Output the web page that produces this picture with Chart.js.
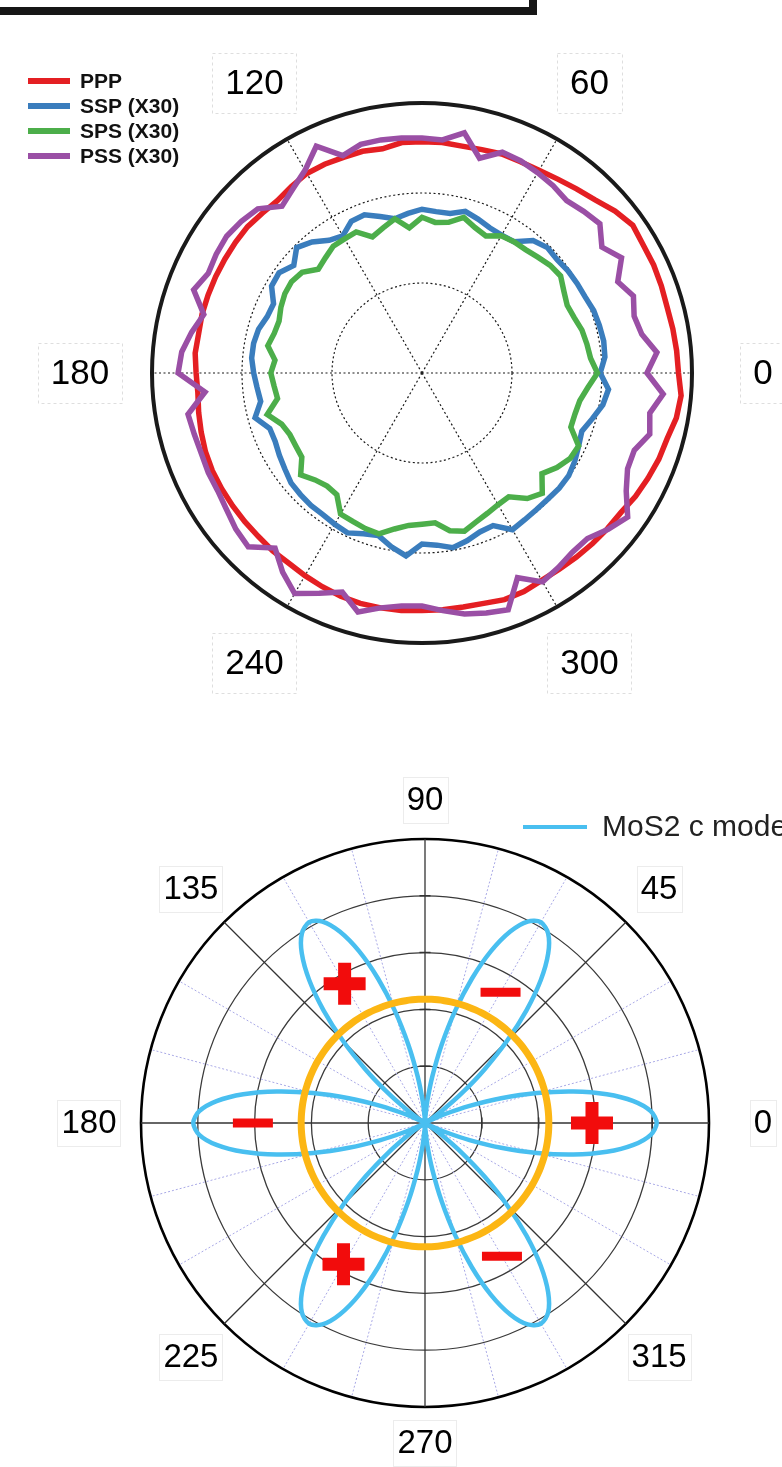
<!DOCTYPE html>
<html>
<head>
<meta charset="utf-8">
<script src="https://cdn.jsdelivr.net/npm/chart.js@4/dist/chart.umd.min.js"></script>
<style>
  html, body { margin: 0; padding: 0; background: #ffffff; }
  body { width: 782px; height: 1467px; position: relative; overflow: hidden; }
  #frame { position: absolute; left: -20px; top: -20px; width: 557px; height: 35px;
           box-sizing: border-box; border: 8px solid #161616; }
  #polarTop { position: absolute; left: 0; top: 0; }
  #polarBottom { position: absolute; left: 0; top: 740px; }
</style>
</head>
<body>
<div id="frame"></div>
<canvas id="polarTop" width="782" height="720"></canvas>
<canvas id="polarBottom" width="782" height="727"></canvas>
<script>
// ---------- Upper plot: azimuthal SHG intensity, 5 degree steps ----------
const topAngles = [0,5,10,15,20,25,30,35,40,45,50,55,60,65,70,75,80,85,90,95,100,105,110,115,
  120,125,130,135,140,145,150,155,160,165,170,175,180,185,190,195,200,205,210,215,220,225,230,235,
  240,245,250,255,260,265,270,275,280,285,290,295,300,305,310,315,320,325,330,335,340,345,350,355];

const ppp = [2.85,2.84,2.83,2.82,2.83,2.84,2.84,2.86,2.80,2.72,2.67,2.63,
  2.60,2.59,2.59,2.57,2.56,2.57,2.57,2.57,2.53,2.55,2.55,2.56,
  2.56,2.53,2.50,2.51,2.53,2.53,2.53,2.53,2.53,2.53,2.52,2.53,
  2.51,2.50,2.52,2.54,2.56,2.57,2.57,2.57,2.57,2.57,2.58,2.58,
  2.60,2.62,2.64,2.65,2.65,2.65,2.64,2.64,2.64,2.65,2.68,2.68,
  2.66,2.66,2.67,2.68,2.69,2.70,2.74,2.77,2.80,2.82,2.87,2.89];

const ssp = [1.98,2.04,2.05,2.04,2.03,2.00,1.99,1.98,1.96,1.97,1.92,1.78,
  1.77,1.78,1.82,1.86,1.80,1.80,1.82,1.78,1.74,1.80,1.87,1.86,
  1.76,1.80,1.90,1.97,1.86,1.94,1.93,1.82,1.83,1.88,1.90,1.90,
  1.87,1.84,1.82,1.92,1.80,1.80,1.83,1.86,1.90,1.91,1.92,1.92,
  1.94,1.96,1.90,1.87,1.96,2.04,1.90,1.92,1.97,1.93,1.88,1.87,
  2.01,1.99,1.98,1.98,1.99,1.99,1.96,1.92,1.89,1.96,2.04,2.08];

const sps = [1.95,1.88,1.86,1.84,1.80,1.78,1.82,1.88,1.86,1.82,1.79,1.78,
  1.76,1.68,1.72,1.79,1.70,1.68,1.73,1.62,1.74,1.67,1.61,1.73,
  1.72,1.72,1.67,1.63,1.74,1.77,1.76,1.73,1.69,1.70,1.74,1.64,
  1.68,1.65,1.63,1.78,1.66,1.62,1.62,1.63,1.76,1.68,1.64,1.65,
  1.81,1.82,1.84,1.85,1.76,1.70,1.68,1.67,1.78,1.82,1.76,1.72,
  1.69,1.68,1.82,1.89,1.74,1.83,1.90,1.92,1.76,1.76,1.78,1.85];

const pss = [2.50,2.62,2.48,2.44,2.50,2.40,2.56,2.44,2.58,2.54,2.50,2.54,
  2.57,2.60,2.61,2.47,2.71,2.60,2.61,2.62,2.63,2.63,2.57,2.78,
  2.60,2.50,2.42,2.58,2.62,2.65,2.64,2.62,2.70,2.51,2.60,2.68,
  2.71,2.42,2.64,2.62,2.61,2.62,2.62,2.65,2.70,2.73,2.54,2.70,
  2.83,2.70,2.59,2.75,2.65,2.60,2.59,2.65,2.72,2.76,2.80,2.51,
  2.68,2.64,2.60,2.60,2.70,2.79,2.62,2.52,2.51,2.62,2.57,2.69];

const topAxisLabels = [0, 60, 120, 180, 240, 300];

// ---------- Lower plot: MoS2 c-mode pattern, 3 degree steps ----------
const bottomAngles = [0,3,6,9,12,15,18,21,24,27,30,33,36,39,42,45,48,51,54,57,
  60,63,66,69,72,75,78,81,84,87,90,93,96,99,102,105,108,111,114,117,
  120,123,126,129,132,135,138,141,144,147,150,153,156,159,162,165,168,171,174,177,
  180,183,186,189,192,195,198,201,204,207,210,213,216,219,222,225,228,231,234,237,
  240,243,246,249,252,255,258,261,264,267,270,273,276,279,282,285,288,291,294,297,
  300,303,306,309,312,315,318,321,324,327,330,333,336,339,342,345,348,351,354,357];

const cMode = [
  4.08,3.98,3.69,3.24,2.67,2.04,1.41,0.84,0.39,0.10,0,0.10,0.39,0.84,1.41,2.04,2.67,3.24,3.69,3.98,
  4.08,3.98,3.69,3.24,2.67,2.04,1.41,0.84,0.39,0.10,0,0.10,0.39,0.84,1.41,2.04,2.67,3.24,3.69,3.98,
  4.08,3.98,3.69,3.24,2.67,2.04,1.41,0.84,0.39,0.10,0,0.10,0.39,0.84,1.41,2.04,2.67,3.24,3.69,3.98,
  4.08,3.98,3.69,3.24,2.67,2.04,1.41,0.84,0.39,0.10,0,0.10,0.39,0.84,1.41,2.04,2.67,3.24,3.69,3.98,
  4.08,3.98,3.69,3.24,2.67,2.04,1.41,0.84,0.39,0.10,0,0.10,0.39,0.84,1.41,2.04,2.67,3.24,3.69,3.98,
  4.08,3.98,3.69,3.24,2.67,2.04,1.41,0.84,0.39,0.10,0,0.10,0.39,0.84,1.41,2.04,2.67,3.24,3.69,3.98];

const isotropicLevel = 2.18;

const plusAngles = [0, 120, 240];
const plusLevels = [2.94, 2.83, 2.87];
const minusAngles = [60, 180, 300];
const minusLevels = [2.66, 3.03, 2.71];

const bottomAxisLabels = [0, 45, 90, 135, 180, 225, 270, 315];

// ---------- helpers ----------
// The radial scale walks clockwise from its start angle; reorder so that
// angles increase counter-clockwise from the right-hand side.
const clockwise = arr => arr.map((_, i) => arr[(arr.length - i) % arr.length]);

function sparseSeries(angles, levels) {
  const out = bottomAngles.map(() => null);
  angles.forEach((a, k) => { out[bottomAngles.indexOf(a)] = levels[k]; });
  return out;
}

const FONT = "'Liberation Sans', Arial, Helvetica, sans-serif";

// Boxed angle captions placed around the scale
const angleCaptions = {
  id: 'angleCaptions',
  afterDraw(chart, _args, o) {
    const r = chart.scales.r, ctx = chart.ctx;
    ctx.save();
    ctx.font = o.font;
    ctx.textAlign = 'center';
    ctx.textBaseline = 'middle';
    o.angles.forEach((deg, k) => {
      const rad = deg * Math.PI / 180;
      const d = o.distances[k];
      const x = r.xCenter + Math.cos(rad) * d;
      const y = r.yCenter - Math.sin(rad) * d;
      const text = String(deg);
      const w = ctx.measureText(text).width + o.padX * 2;
      const h = o.boxHeight;
      ctx.fillStyle = '#ffffff';
      ctx.fillRect(x - w / 2, y - h / 2, w, h);
      ctx.setLineDash(o.dash);
      ctx.strokeStyle = o.boxBorder;
      ctx.lineWidth = 1;
      ctx.strokeRect(Math.round(x - w / 2) + 0.5, Math.round(y - h / 2) + 0.5, Math.round(w), Math.round(h));
      ctx.setLineDash([]);
      ctx.fillStyle = '#000000';
      ctx.fillText(text, x, y + 1);
    });
    ctx.restore();
  }
};

// Line-sample key drawn from the datasets' own labels and colours
const seriesKey = {
  id: 'seriesKey',
  afterDraw(chart, _args, o) {
    const ctx = chart.ctx;
    ctx.save();
    ctx.font = o.font;
    ctx.textAlign = 'left';
    ctx.textBaseline = 'middle';
    o.items.forEach((dsIndex, k) => {
      const ds = chart.data.datasets[dsIndex];
      const y = o.y + k * o.spacing;
      ctx.strokeStyle = ds.borderColor;
      ctx.lineWidth = o.lineWidth;
      ctx.lineCap = 'butt';
      ctx.beginPath();
      ctx.moveTo(o.x, y);
      ctx.lineTo(o.x + o.lineLength, y);
      ctx.stroke();
      ctx.fillStyle = o.color;
      ctx.fillText(ds.label, o.x + o.lineLength + o.gap, y + 1);
    });
    ctx.restore();
  }
};

// Short tick marks where the rings cross the 0 and 90 degree axes
const axisTicks = {
  id: 'axisTicks',
  beforeDatasetsDraw(chart, _args, o) {
    const r = chart.scales.r, ctx = chart.ctx;
    ctx.save();
    ctx.strokeStyle = o.color;
    ctx.lineWidth = 1.5;
    r.ticks.forEach(t => {
      if (t.value <= 0 || t.value >= r.max) return;
      const d = r.getDistanceFromCenterForValue(t.value);
      ctx.beginPath();
      ctx.moveTo(r.xCenter + d, r.yCenter - o.len / 2);
      ctx.lineTo(r.xCenter + d, r.yCenter + o.len / 2);
      ctx.moveTo(r.xCenter - o.len / 2, r.yCenter - d);
      ctx.lineTo(r.xCenter + o.len / 2, r.yCenter - d);
      ctx.stroke();
    });
    ctx.restore();
  }
};

Chart.defaults.font.family = FONT;

// ---------- upper chart ----------
const lineSet = (label, data, color, order) => ({
  label, data: clockwise(data), borderColor: color, backgroundColor: color,
  borderWidth: 5.5, pointRadius: 0, fill: false, tension: 0, order,
  borderJoinStyle: 'miter'
});

new Chart(document.getElementById('polarTop'), {
  type: 'radar',
  data: {
    labels: clockwise(topAngles),
    datasets: [
      lineSet('PPP', ppp, '#e41f23', 4),
      lineSet('SSP (X30)', ssp, '#3a7dbd', 3),
      lineSet('SPS (X30)', sps, '#4cae4a', 2),
      lineSet('PSS (X30)', pss, '#9a4fa5', 1)
    ]
  },
  options: {
    responsive: false,
    animation: false,
    layout: { padding: { left: 152, right: 90, top: 103, bottom: 77 } },
    plugins: {
      legend: { display: false },
      tooltip: { enabled: false },
      angleCaptions: {
        angles: topAxisLabels,
        distances: [341, 335, 335, 342, 335, 335],
        font: '35px ' + FONT, padX: 13, boxHeight: 60,
        boxBorder: '#dedede', dash: [3, 3]
      },
      seriesKey: {
        items: [0, 1, 2, 3], x: 28, y: 81, spacing: 25, lineLength: 42, gap: 10,
        lineWidth: 6, font: 'bold 21px ' + FONT, color: '#111111'
      }
    },
    scales: {
      r: {
        startAngle: 90,
        min: 0, max: 3,
        ticks: { display: false, stepSize: 1 },
        pointLabels: { display: false },
        grid: {
          circular: true,
          color: '#1a1a1a',
          lineWidth: c => (c.tick && c.tick.value === 3) ? 4 : 1.2
        },
        border: { dash: c => (c.tick && c.tick.value === 3) ? [] : [2, 2.5] },
        angleLines: {
          color: '#1a1a1a',
          lineWidth: c => (Number(c.label) % 60 === 0) ? 1.2 : 0,
          borderDash: [2, 2.5]
        }
      }
    }
  },
  plugins: [angleCaptions, seriesKey]
});

// ---------- lower chart ----------
new Chart(document.getElementById('polarBottom'), {
  type: 'radar',
  data: {
    labels: clockwise(bottomAngles),
    datasets: [
      {
        label: 'MoS2 c mode', data: clockwise(cMode),
        borderColor: '#49bff0', borderWidth: 4.5, pointRadius: 0,
        fill: false, tension: 0.3, order: 3
      },
      {
        label: 'isotropic', data: clockwise(bottomAngles.map(() => isotropicLevel)),
        borderColor: '#fcb614', borderWidth: 7, pointRadius: 0,
        fill: false, tension: 0.3, order: 2
      },
      {
        label: 'positive', data: clockwise(sparseSeries(plusAngles, plusLevels)),
        showLine: false, pointStyle: 'cross', pointRadius: 21, pointBorderWidth: 13,
        pointBorderColor: '#f20c0c', pointBackgroundColor: '#f20c0c', order: 0
      },
      {
        label: 'negative', data: clockwise(sparseSeries(minusAngles, minusLevels)),
        showLine: false, pointStyle: 'line', pointRadius: 20, pointBorderWidth: 9,
        pointBorderColor: '#f20c0c', pointBackgroundColor: '#f20c0c', order: 1
      }
    ]
  },
  options: {
    responsive: false,
    animation: false,
    layout: { padding: { left: 141, right: 73, top: 99, bottom: 60 } },
    plugins: {
      legend: { display: false },
      tooltip: { enabled: false },
      angleCaptions: {
        angles: bottomAxisLabels,
        distances: [338, 331, 323, 331, 336, 331, 320, 331],
        font: '33px ' + FONT, padX: 4, boxHeight: 46,
        boxBorder: '#ececec', dash: []
      },
      seriesKey: {
        items: [0], x: 523, y: 87, spacing: 0, lineLength: 64, gap: 15,
        lineWidth: 4, font: '30px ' + FONT, color: '#222222'
      },
      axisTicks: { len: 11, color: '#333333' }
    },
    scales: {
      r: {
        startAngle: 90,
        min: 0, max: 5,
        ticks: { display: false, stepSize: 1 },
        pointLabels: { display: false },
        grid: {
          circular: true,
          color: c => (c.tick && c.tick.value === 5) ? '#000000' : '#3a3a3a',
          lineWidth: c => (c.tick && c.tick.value === 5) ? 2.6 : 1.3
        },
        border: { dash: [] },
        angleLines: {
          color: c => (Number(c.label) % 45 === 0) ? '#333333' : '#a9a9e6',
          lineWidth: c => {
            const a = Number(c.label);
            if (a % 45 === 0) return 1.3;
            return (a % 15 === 0) ? 1 : 0;
          },
          borderDash: c => (Number(c.label) % 45 === 0) ? [] : [2, 2]
        }
      }
    }
  },
  plugins: [angleCaptions, seriesKey, axisTicks]
});
</script>
</body>
</html>
